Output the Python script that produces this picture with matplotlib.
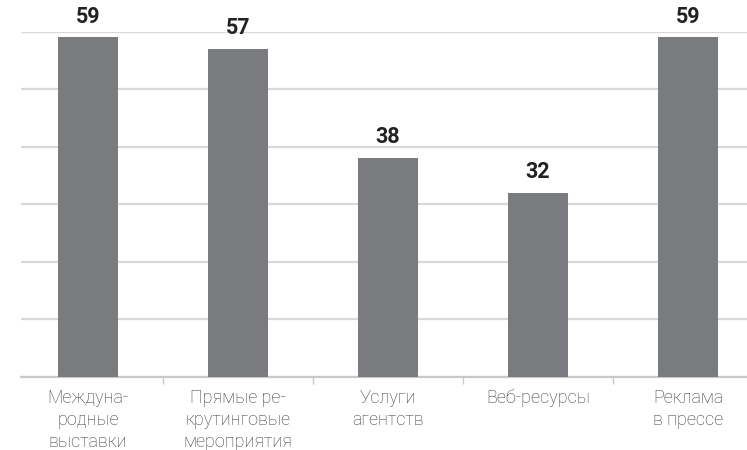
import numpy as np
import matplotlib
matplotlib.use("Agg")
import matplotlib.pyplot as plt

# ── Data ──────────────────────────────────────────────────────────────────────
categories = [
    "Междуна-\nродные\nвыставки",
    "Прямые ре-\nкрутинговые\nмероприятия",
    "Услуги\nагентств",
    "Веб-ресурсы",
    "Реклама\nв прессе",
]
values = [59, 57, 38, 32, 59]
y_grid = [0, 10, 20, 30, 40, 50, 60]

plt.rcParams["font.family"] = ["Roboto", "DejaVu Sans"]

fig = plt.figure(figsize=(7.47, 4.5), dpi=100)
ax = fig.add_axes([21 / 747, 1 - 377 / 450, 1 - 21 / 747, (377 - 31.5) / 450])

x = np.arange(len(values))
ax.bar(x, values, width=0.4, color="#7a7b7f", zorder=3)

for xi, v in zip(x, values):
    ax.annotate(f"{v}", xy=(xi, v), xytext=(0, 7), textcoords="offset points",
                ha="center", va="bottom", fontsize=15.5, fontweight="bold",
                color="#222222")

# horizontal grid
ax.set_yticks(y_grid)
ax.yaxis.grid(True, color="#d9d9d9", linewidth=1.6, zorder=0)
ax.tick_params(axis="y", left=False, labelleft=False)
ax.set_ylim(0, 60)
ax.set_xlim(-0.447, 4.393)

# category labels at centres, ticks at boundaries
ax.set_xticks(x)
ax.set_xticklabels(categories, fontsize=13, color="#3a3a3a",
                   fontweight="light", linespacing=1.28)
ax.tick_params(axis="x", which="major", length=0, pad=8.5)
ax.set_xticks(x[:-1] + 0.5, minor=True)
ax.tick_params(axis="x", which="minor", length=5, width=1, color="#c8c8c8")

for s in ["top", "right", "left"]:
    ax.spines[s].set_visible(False)
ax.spines["bottom"].set_color("#c8c8c8")
ax.spines["bottom"].set_linewidth(1.6)

fig.savefig("out.png", dpi=100)
